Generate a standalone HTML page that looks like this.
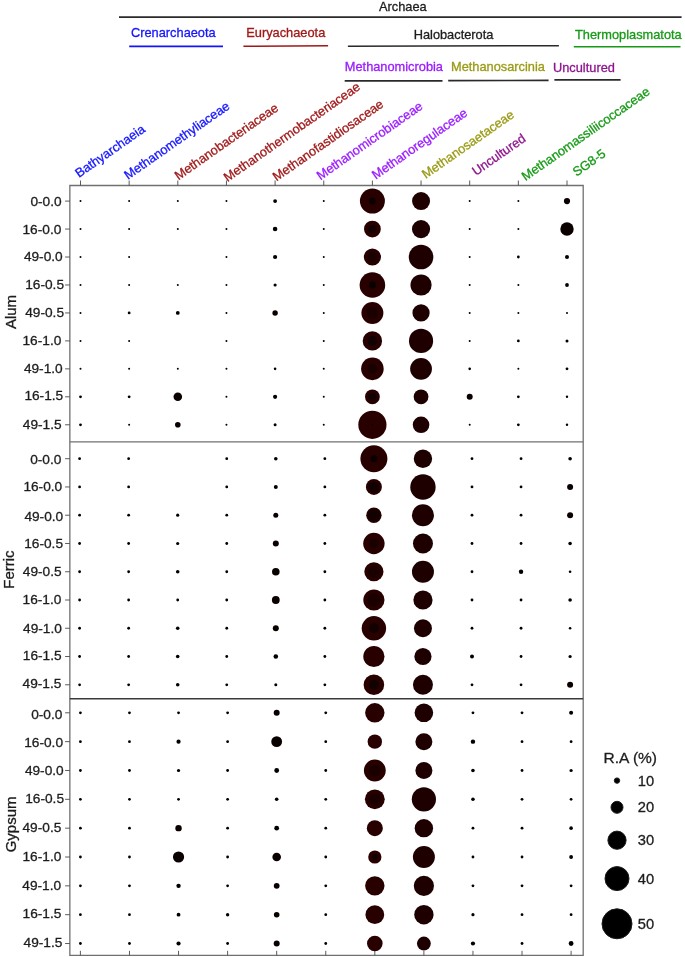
<!DOCTYPE html>
<html lang="en"><head><meta charset="utf-8"><title>Archaea relative abundance bubble plot</title>
<style>html,body{margin:0;padding:0;background:#fff}body{width:685px;height:957px;overflow:hidden}svg{display:block}text{font-family:"Liberation Sans", Arial, sans-serif}.b text{stroke-width:0.3px;paint-order:stroke}</style>
</head><body>
<svg width="685" height="957" viewBox="0 0 685 957">
<rect width="685" height="957" fill="#fff"/>
<g font-size="12.8" class="b">
<text x="379.0" y="10.6" fill="#1c1c1c" stroke="#1c1c1c" text-anchor="start">Archaea</text>
<line x1="119.0" y1="17.1" x2="681.6" y2="17.1" stroke="#2a2a2a" stroke-width="1.80"/>
<text x="131.0" y="37.2" fill="#1414ff" stroke="#1414ff" text-anchor="start">Crenarchaeota</text>
<line x1="129.2" y1="46.4" x2="223.0" y2="46.4" stroke="#1414ff" stroke-width="1.60"/>
<text x="246.3" y="37.2" fill="#a01818" stroke="#a01818" text-anchor="start">Euryachaeota</text>
<line x1="243.4" y1="46.3" x2="328.1" y2="45.8" stroke="#a01818" stroke-width="1.60"/>
<text x="413.7" y="39.4" fill="#1c1c1c" stroke="#1c1c1c" text-anchor="start">Halobacterota</text>
<line x1="347.9" y1="46.2" x2="558.9" y2="45.7" stroke="#2a2a2a" stroke-width="1.60"/>
<text x="575.0" y="39.4" fill="#169a16" stroke="#169a16" text-anchor="start">Thermoplasmatota</text>
<line x1="573.8" y1="46.8" x2="680.5" y2="46.8" stroke="#169a16" stroke-width="1.60"/>
<text x="344.8" y="71.0" fill="#9a1aff" stroke="#9a1aff" text-anchor="start">Methanomicrobia</text>
<line x1="344.7" y1="80.9" x2="442.5" y2="80.9" stroke="#2a2a2a" stroke-width="1.60"/>
<text x="451.0" y="71.0" fill="#9a9a14" stroke="#9a9a14" text-anchor="start">Methanosarcinia</text>
<line x1="448.2" y1="80.6" x2="548.6" y2="80.4" stroke="#2a2a2a" stroke-width="1.60"/>
<text x="553.0" y="72.0" fill="#8e148e" stroke="#8e148e" text-anchor="start">Uncultured</text>
<line x1="554.4" y1="79.9" x2="620.6" y2="79.9" stroke="#2a2a2a" stroke-width="1.60"/>
<text transform="translate(79.0 178.0) rotate(-35)" fill="#1414ff" stroke="#1414ff">Bathyarchaeia</text>
<text transform="translate(128.0 179.9) rotate(-35)" fill="#1414ff" stroke="#1414ff">Methanomethyliaceae</text>
<text transform="translate(178.4 180.4) rotate(-35)" fill="#a01818" stroke="#a01818">Methanobacteriaceae</text>
<text transform="translate(227.6 182.2) rotate(-35)" fill="#a01818" stroke="#a01818">Methanothermobacteriaceae</text>
<text transform="translate(276.6 181.6) rotate(-35)" fill="#a01818" stroke="#a01818">Methanofastidiosaceae</text>
<text transform="translate(320.4 180.4) rotate(-35)" fill="#9a1aff" stroke="#9a1aff">Methanomicrobiaceae</text>
<text transform="translate(375.7 179.7) rotate(-35)" fill="#9a1aff" stroke="#9a1aff">Methanoregulaceae</text>
<text transform="translate(425.8 179.0) rotate(-35)" fill="#9a9a14" stroke="#9a9a14">Methanosaetaceae</text>
<text transform="translate(475.9 176.0) rotate(-35)" fill="#8e148e" stroke="#8e148e">Uncultured</text>
<text transform="translate(525.5 181.2) rotate(-35)" fill="#169a16" stroke="#169a16">Methanomassiliicoccaceae</text>
<text transform="translate(576.4 176.8) rotate(-35)" fill="#169a16" stroke="#169a16">SG8-5</text>
</g>
<g stroke="#707070" stroke-width="1.3" fill="none">
<path d="M69.85 185.50 H583.20 V955.30 H69.85 Z"/>
<path d="M69.85 441.9 H583.20"/>
</g>
<path d="M69.85 698.85 H583.20" stroke="#3a3a3a" stroke-width="1.5" fill="none"/>
<g stroke="#4a4a4a" stroke-width="0.9">
<line x1="80.50" y1="180.5" x2="80.50" y2="185.5"/>
<line x1="129.15" y1="180.5" x2="129.15" y2="185.5"/>
<line x1="177.80" y1="180.5" x2="177.80" y2="185.5"/>
<line x1="226.45" y1="180.5" x2="226.45" y2="185.5"/>
<line x1="275.10" y1="180.5" x2="275.10" y2="185.5"/>
<line x1="323.75" y1="180.5" x2="323.75" y2="185.5"/>
<line x1="372.40" y1="180.5" x2="372.40" y2="185.5"/>
<line x1="421.05" y1="180.5" x2="421.05" y2="185.5"/>
<line x1="469.70" y1="180.5" x2="469.70" y2="185.5"/>
<line x1="518.35" y1="180.5" x2="518.35" y2="185.5"/>
<line x1="567.00" y1="180.5" x2="567.00" y2="185.5"/>
<line x1="80.40" y1="950.8" x2="80.40" y2="955.3"/>
<line x1="129.47" y1="950.8" x2="129.47" y2="955.3"/>
<line x1="178.54" y1="950.8" x2="178.54" y2="955.3"/>
<line x1="227.61" y1="950.8" x2="227.61" y2="955.3"/>
<line x1="276.68" y1="950.8" x2="276.68" y2="955.3"/>
<line x1="325.75" y1="950.8" x2="325.75" y2="955.3"/>
<line x1="374.82" y1="950.8" x2="374.82" y2="955.3"/>
<line x1="423.89" y1="950.8" x2="423.89" y2="955.3"/>
<line x1="472.96" y1="950.8" x2="472.96" y2="955.3"/>
<line x1="522.03" y1="950.8" x2="522.03" y2="955.3"/>
<line x1="571.10" y1="950.8" x2="571.10" y2="955.3"/>
<line x1="65.1" y1="201.10" x2="69.85" y2="201.10"/>
<line x1="65.1" y1="229.06" x2="69.85" y2="229.06"/>
<line x1="65.1" y1="257.02" x2="69.85" y2="257.02"/>
<line x1="65.1" y1="284.98" x2="69.85" y2="284.98"/>
<line x1="65.1" y1="312.94" x2="69.85" y2="312.94"/>
<line x1="65.1" y1="340.90" x2="69.85" y2="340.90"/>
<line x1="65.1" y1="368.86" x2="69.85" y2="368.86"/>
<line x1="65.1" y1="396.82" x2="69.85" y2="396.82"/>
<line x1="65.1" y1="424.78" x2="69.85" y2="424.78"/>
<line x1="65.1" y1="458.70" x2="69.85" y2="458.70"/>
<line x1="65.1" y1="486.96" x2="69.85" y2="486.96"/>
<line x1="65.1" y1="515.22" x2="69.85" y2="515.22"/>
<line x1="65.1" y1="543.48" x2="69.85" y2="543.48"/>
<line x1="65.1" y1="571.74" x2="69.85" y2="571.74"/>
<line x1="65.1" y1="600.00" x2="69.85" y2="600.00"/>
<line x1="65.1" y1="628.26" x2="69.85" y2="628.26"/>
<line x1="65.1" y1="656.52" x2="69.85" y2="656.52"/>
<line x1="65.1" y1="684.78" x2="69.85" y2="684.78"/>
<line x1="65.1" y1="712.80" x2="69.85" y2="712.80"/>
<line x1="65.1" y1="741.64" x2="69.85" y2="741.64"/>
<line x1="65.1" y1="770.48" x2="69.85" y2="770.48"/>
<line x1="65.1" y1="799.32" x2="69.85" y2="799.32"/>
<line x1="65.1" y1="828.16" x2="69.85" y2="828.16"/>
<line x1="65.1" y1="857.00" x2="69.85" y2="857.00"/>
<line x1="65.1" y1="885.84" x2="69.85" y2="885.84"/>
<line x1="65.1" y1="914.68" x2="69.85" y2="914.68"/>
<line x1="65.1" y1="943.52" x2="69.85" y2="943.52"/>
</g>
<g class="b" font-size="13.7" fill="#1c1c1c" stroke="#1c1c1c" text-anchor="end">
<text x="61.6" y="205.9">0-0.0</text>
<text x="61.3" y="233.5">16-0.0</text>
<text x="62.7" y="261.2">49-0.0</text>
<text x="64.0" y="289.3">16-0.5</text>
<text x="64.0" y="317.0">49-0.5</text>
<text x="61.3" y="345.0">16-1.0</text>
<text x="62.7" y="373.4">49-1.0</text>
<text x="63.2" y="399.9">16-1.5</text>
<text x="61.6" y="428.8">49-1.5</text>
<text x="61.4" y="463.7">0-0.0</text>
<text x="62.2" y="490.5">16-0.0</text>
<text x="63.2" y="520.5">49-0.0</text>
<text x="63.0" y="547.7">16-0.5</text>
<text x="61.6" y="575.9">49-0.5</text>
<text x="61.4" y="604.4">16-1.0</text>
<text x="61.9" y="633.2">49-1.0</text>
<text x="61.6" y="660.4">16-1.5</text>
<text x="61.4" y="687.6">49-1.5</text>
<text x="62.4" y="718.6">0-0.0</text>
<text x="63.0" y="746.5">16-0.0</text>
<text x="63.7" y="775.4">49-0.0</text>
<text x="64.0" y="802.8">16-0.5</text>
<text x="61.3" y="832.2">49-0.5</text>
<text x="61.3" y="860.5">16-1.0</text>
<text x="61.1" y="890.4">49-1.0</text>
<text x="61.4" y="918.1">16-1.5</text>
<text x="62.4" y="947.1">49-1.5</text>
</g>
<g class="b" font-size="15" fill="#1c1c1c" stroke="#1c1c1c" text-anchor="middle">
<text transform="translate(16.0 312.0) rotate(-90)">Alum</text>
<text transform="translate(14.0 569.6) rotate(-90)">Ferric</text>
<text transform="translate(16.0 824.4) rotate(-90)">Gypsum</text>
</g>
<g>
<circle cx="80.50" cy="201.10" r="1.00" fill="#000"/>
<circle cx="80.50" cy="229.06" r="1.00" fill="#000"/>
<circle cx="80.50" cy="257.02" r="1.00" fill="#000"/>
<circle cx="80.50" cy="284.98" r="1.00" fill="#000"/>
<circle cx="80.50" cy="312.94" r="1.00" fill="#000"/>
<circle cx="80.50" cy="340.90" r="1.00" fill="#000"/>
<circle cx="80.50" cy="368.86" r="1.00" fill="#000"/>
<circle cx="80.50" cy="396.82" r="1.40" fill="#000"/>
<circle cx="80.50" cy="424.78" r="1.40" fill="#000"/>
<circle cx="129.15" cy="201.10" r="1.00" fill="#000"/>
<circle cx="129.15" cy="229.06" r="1.00" fill="#000"/>
<circle cx="129.15" cy="257.02" r="1.00" fill="#000"/>
<circle cx="129.15" cy="284.98" r="1.00" fill="#000"/>
<circle cx="129.15" cy="312.94" r="1.40" fill="#000"/>
<circle cx="129.15" cy="340.90" r="1.00" fill="#000"/>
<circle cx="129.15" cy="368.86" r="1.00" fill="#000"/>
<circle cx="129.15" cy="396.82" r="1.40" fill="#000"/>
<circle cx="129.15" cy="424.78" r="1.00" fill="#000"/>
<circle cx="177.80" cy="201.10" r="1.00" fill="#000"/>
<circle cx="177.80" cy="229.06" r="1.00" fill="#000"/>
<circle cx="177.80" cy="284.98" r="1.00" fill="#000"/>
<circle cx="177.80" cy="312.94" r="1.90" fill="#000"/>
<circle cx="177.80" cy="368.86" r="1.00" fill="#000"/>
<circle cx="177.80" cy="396.82" r="4.30" fill="#0a0000"/>
<circle cx="177.80" cy="424.78" r="2.80" fill="#0a0000"/>
<circle cx="226.45" cy="201.10" r="1.00" fill="#000"/>
<circle cx="226.45" cy="229.06" r="1.00" fill="#000"/>
<circle cx="226.45" cy="257.02" r="1.00" fill="#000"/>
<circle cx="226.45" cy="284.98" r="1.00" fill="#000"/>
<circle cx="226.45" cy="312.94" r="1.00" fill="#000"/>
<circle cx="226.45" cy="340.90" r="1.00" fill="#000"/>
<circle cx="226.45" cy="368.86" r="1.00" fill="#000"/>
<circle cx="226.45" cy="396.82" r="1.00" fill="#000"/>
<circle cx="226.45" cy="424.78" r="1.00" fill="#000"/>
<circle cx="275.10" cy="201.10" r="1.90" fill="#000"/>
<circle cx="275.10" cy="229.06" r="2.30" fill="#000"/>
<circle cx="275.10" cy="257.02" r="2.10" fill="#000"/>
<circle cx="275.10" cy="284.98" r="1.60" fill="#000"/>
<circle cx="275.10" cy="312.94" r="2.70" fill="#0a0000"/>
<circle cx="275.10" cy="368.86" r="1.30" fill="#000"/>
<circle cx="275.10" cy="396.82" r="2.10" fill="#000"/>
<circle cx="275.10" cy="424.78" r="1.50" fill="#000"/>
<circle cx="323.75" cy="201.10" r="1.00" fill="#000"/>
<circle cx="323.75" cy="229.06" r="1.00" fill="#000"/>
<circle cx="323.75" cy="257.02" r="1.00" fill="#000"/>
<circle cx="323.75" cy="284.98" r="1.00" fill="#000"/>
<circle cx="323.75" cy="312.94" r="1.00" fill="#000"/>
<circle cx="323.75" cy="340.90" r="1.00" fill="#000"/>
<circle cx="323.75" cy="368.86" r="1.00" fill="#000"/>
<circle cx="323.75" cy="396.82" r="1.00" fill="#000"/>
<circle cx="323.75" cy="424.78" r="1.00" fill="#000"/>
<circle cx="372.40" cy="201.10" r="12.50" fill="#280000"/>
<circle cx="372.40" cy="201.10" r="3.40" fill="#090000"/>
<circle cx="372.40" cy="229.06" r="8.40" fill="#280000"/>
<circle cx="372.40" cy="229.06" r="4.00" fill="#130000"/>
<circle cx="372.40" cy="257.02" r="8.60" fill="#280000"/>
<circle cx="372.40" cy="257.02" r="5.00" fill="#1b0000"/>
<circle cx="372.40" cy="284.98" r="12.80" fill="#280000"/>
<circle cx="372.40" cy="284.98" r="3.40" fill="#090000"/>
<circle cx="372.40" cy="312.94" r="11.00" fill="#280000"/>
<circle cx="372.40" cy="312.94" r="6.00" fill="#1b0000"/>
<circle cx="372.40" cy="340.90" r="9.70" fill="#280000"/>
<circle cx="372.40" cy="340.90" r="5.00" fill="#130000"/>
<circle cx="372.40" cy="368.86" r="11.30" fill="#280000"/>
<circle cx="372.40" cy="368.86" r="5.00" fill="#1b0000"/>
<circle cx="372.40" cy="396.82" r="7.40" fill="#280000"/>
<circle cx="372.40" cy="396.82" r="4.00" fill="#130000"/>
<circle cx="372.40" cy="424.78" r="14.10" fill="#280000"/>
<circle cx="372.40" cy="424.78" r="1.00" fill="#090000"/>
<circle cx="421.05" cy="201.10" r="9.00" fill="#1e0000"/>
<circle cx="421.05" cy="229.06" r="9.10" fill="#1e0000"/>
<circle cx="421.05" cy="257.02" r="12.30" fill="#1e0000"/>
<circle cx="421.05" cy="284.98" r="10.60" fill="#1e0000"/>
<circle cx="421.05" cy="312.94" r="8.60" fill="#1e0000"/>
<circle cx="421.05" cy="340.90" r="12.10" fill="#1e0000"/>
<circle cx="421.05" cy="368.86" r="10.90" fill="#1e0000"/>
<circle cx="421.05" cy="396.82" r="7.40" fill="#1e0000"/>
<circle cx="421.05" cy="424.78" r="8.30" fill="#1e0000"/>
<circle cx="469.70" cy="201.10" r="1.00" fill="#000"/>
<circle cx="469.70" cy="229.06" r="1.00" fill="#000"/>
<circle cx="469.70" cy="257.02" r="1.00" fill="#000"/>
<circle cx="469.70" cy="284.98" r="1.00" fill="#000"/>
<circle cx="469.70" cy="312.94" r="1.00" fill="#000"/>
<circle cx="469.70" cy="340.90" r="1.00" fill="#000"/>
<circle cx="469.70" cy="368.86" r="1.30" fill="#000"/>
<circle cx="469.70" cy="396.82" r="3.00" fill="#0a0000"/>
<circle cx="469.70" cy="424.78" r="1.00" fill="#000"/>
<circle cx="518.35" cy="201.10" r="1.00" fill="#000"/>
<circle cx="518.35" cy="229.06" r="1.00" fill="#000"/>
<circle cx="518.35" cy="257.02" r="1.40" fill="#000"/>
<circle cx="518.35" cy="284.98" r="1.00" fill="#000"/>
<circle cx="518.35" cy="312.94" r="1.00" fill="#000"/>
<circle cx="518.35" cy="340.90" r="1.40" fill="#000"/>
<circle cx="518.35" cy="368.86" r="1.00" fill="#000"/>
<circle cx="518.35" cy="396.82" r="1.40" fill="#000"/>
<circle cx="518.35" cy="424.78" r="1.40" fill="#000"/>
<circle cx="567.00" cy="201.10" r="3.10" fill="#0a0000"/>
<circle cx="567.00" cy="229.06" r="6.70" fill="#0a0000"/>
<circle cx="567.00" cy="257.02" r="2.00" fill="#000"/>
<circle cx="567.00" cy="284.98" r="1.90" fill="#000"/>
<circle cx="567.00" cy="312.94" r="1.00" fill="#000"/>
<circle cx="567.00" cy="340.90" r="1.50" fill="#000"/>
<circle cx="567.00" cy="368.86" r="1.40" fill="#000"/>
<circle cx="567.00" cy="396.82" r="1.20" fill="#000"/>
<circle cx="567.00" cy="424.78" r="1.20" fill="#000"/>
</g>
<g>
<circle cx="79.60" cy="458.70" r="1.40" fill="#000"/>
<circle cx="79.60" cy="486.96" r="1.40" fill="#000"/>
<circle cx="79.60" cy="515.22" r="1.40" fill="#000"/>
<circle cx="79.60" cy="543.48" r="1.40" fill="#000"/>
<circle cx="79.60" cy="571.74" r="1.40" fill="#000"/>
<circle cx="79.60" cy="600.00" r="1.40" fill="#000"/>
<circle cx="79.60" cy="628.26" r="1.40" fill="#000"/>
<circle cx="79.60" cy="656.52" r="1.40" fill="#000"/>
<circle cx="79.60" cy="684.78" r="1.40" fill="#000"/>
<circle cx="128.65" cy="458.70" r="1.40" fill="#000"/>
<circle cx="128.65" cy="486.96" r="1.40" fill="#000"/>
<circle cx="128.65" cy="515.22" r="1.40" fill="#000"/>
<circle cx="128.65" cy="543.48" r="1.40" fill="#000"/>
<circle cx="128.65" cy="571.74" r="1.40" fill="#000"/>
<circle cx="128.65" cy="600.00" r="1.40" fill="#000"/>
<circle cx="128.65" cy="628.26" r="1.40" fill="#000"/>
<circle cx="128.65" cy="656.52" r="1.40" fill="#000"/>
<circle cx="128.65" cy="684.78" r="1.40" fill="#000"/>
<circle cx="177.70" cy="515.22" r="1.60" fill="#000"/>
<circle cx="177.70" cy="543.48" r="1.60" fill="#000"/>
<circle cx="177.70" cy="571.74" r="1.80" fill="#000"/>
<circle cx="177.70" cy="600.00" r="1.40" fill="#000"/>
<circle cx="177.70" cy="628.26" r="1.80" fill="#000"/>
<circle cx="177.70" cy="656.52" r="1.80" fill="#000"/>
<circle cx="177.70" cy="684.78" r="1.80" fill="#000"/>
<circle cx="226.75" cy="458.70" r="1.40" fill="#000"/>
<circle cx="226.75" cy="486.96" r="1.40" fill="#000"/>
<circle cx="226.75" cy="515.22" r="1.40" fill="#000"/>
<circle cx="226.75" cy="543.48" r="1.40" fill="#000"/>
<circle cx="226.75" cy="571.74" r="1.40" fill="#000"/>
<circle cx="226.75" cy="600.00" r="1.40" fill="#000"/>
<circle cx="226.75" cy="628.26" r="1.40" fill="#000"/>
<circle cx="226.75" cy="656.52" r="1.40" fill="#000"/>
<circle cx="226.75" cy="684.78" r="1.40" fill="#000"/>
<circle cx="275.80" cy="458.70" r="1.80" fill="#000"/>
<circle cx="275.80" cy="486.96" r="2.00" fill="#000"/>
<circle cx="275.80" cy="515.22" r="2.50" fill="#0a0000"/>
<circle cx="275.80" cy="543.48" r="3.00" fill="#0a0000"/>
<circle cx="275.80" cy="571.74" r="3.80" fill="#0a0000"/>
<circle cx="275.80" cy="600.00" r="3.90" fill="#0a0000"/>
<circle cx="275.80" cy="628.26" r="3.00" fill="#0a0000"/>
<circle cx="275.80" cy="656.52" r="2.30" fill="#000"/>
<circle cx="275.80" cy="684.78" r="1.50" fill="#000"/>
<circle cx="324.85" cy="458.70" r="1.40" fill="#000"/>
<circle cx="324.85" cy="486.96" r="1.40" fill="#000"/>
<circle cx="324.85" cy="515.22" r="1.40" fill="#000"/>
<circle cx="324.85" cy="543.48" r="1.40" fill="#000"/>
<circle cx="324.85" cy="571.74" r="1.40" fill="#000"/>
<circle cx="324.85" cy="600.00" r="1.40" fill="#000"/>
<circle cx="324.85" cy="628.26" r="1.40" fill="#000"/>
<circle cx="324.85" cy="656.52" r="1.40" fill="#000"/>
<circle cx="324.85" cy="684.78" r="1.40" fill="#000"/>
<circle cx="373.90" cy="458.70" r="13.50" fill="#280000"/>
<circle cx="373.90" cy="458.70" r="3.50" fill="#090000"/>
<circle cx="373.90" cy="486.96" r="8.00" fill="#280000"/>
<circle cx="373.90" cy="486.96" r="5.50" fill="#130000"/>
<circle cx="373.90" cy="515.22" r="7.70" fill="#280000"/>
<circle cx="373.90" cy="515.22" r="6.00" fill="#130000"/>
<circle cx="373.90" cy="543.48" r="10.70" fill="#280000"/>
<circle cx="373.90" cy="543.48" r="5.00" fill="#1b0000"/>
<circle cx="373.90" cy="571.74" r="9.60" fill="#280000"/>
<circle cx="373.90" cy="571.74" r="6.00" fill="#1b0000"/>
<circle cx="373.90" cy="600.00" r="10.60" fill="#280000"/>
<circle cx="373.90" cy="600.00" r="6.50" fill="#1b0000"/>
<circle cx="373.90" cy="628.26" r="12.20" fill="#280000"/>
<circle cx="373.90" cy="628.26" r="5.00" fill="#130000"/>
<circle cx="373.90" cy="656.52" r="10.60" fill="#280000"/>
<circle cx="373.90" cy="684.78" r="10.30" fill="#280000"/>
<circle cx="373.90" cy="684.78" r="5.00" fill="#130000"/>
<circle cx="422.95" cy="458.70" r="9.20" fill="#1e0000"/>
<circle cx="422.95" cy="486.96" r="12.70" fill="#1e0000"/>
<circle cx="422.95" cy="515.22" r="11.00" fill="#1e0000"/>
<circle cx="422.95" cy="543.48" r="10.00" fill="#1e0000"/>
<circle cx="422.95" cy="571.74" r="11.00" fill="#1e0000"/>
<circle cx="422.95" cy="600.00" r="9.60" fill="#1e0000"/>
<circle cx="422.95" cy="628.26" r="9.00" fill="#1e0000"/>
<circle cx="422.95" cy="656.52" r="8.60" fill="#1e0000"/>
<circle cx="422.95" cy="684.78" r="10.00" fill="#1e0000"/>
<circle cx="472.00" cy="458.70" r="1.40" fill="#000"/>
<circle cx="472.00" cy="486.96" r="1.40" fill="#000"/>
<circle cx="472.00" cy="515.22" r="1.40" fill="#000"/>
<circle cx="472.00" cy="543.48" r="1.40" fill="#000"/>
<circle cx="472.00" cy="571.74" r="1.40" fill="#000"/>
<circle cx="472.00" cy="600.00" r="1.40" fill="#000"/>
<circle cx="472.00" cy="628.26" r="1.40" fill="#000"/>
<circle cx="472.00" cy="656.52" r="2.00" fill="#000"/>
<circle cx="472.00" cy="684.78" r="1.40" fill="#000"/>
<circle cx="521.05" cy="458.70" r="1.40" fill="#000"/>
<circle cx="521.05" cy="486.96" r="1.40" fill="#000"/>
<circle cx="521.05" cy="515.22" r="1.40" fill="#000"/>
<circle cx="521.05" cy="543.48" r="1.40" fill="#000"/>
<circle cx="521.05" cy="571.74" r="2.20" fill="#000"/>
<circle cx="521.05" cy="600.00" r="1.40" fill="#000"/>
<circle cx="521.05" cy="628.26" r="1.40" fill="#000"/>
<circle cx="521.05" cy="656.52" r="1.40" fill="#000"/>
<circle cx="521.05" cy="684.78" r="1.40" fill="#000"/>
<circle cx="570.10" cy="458.70" r="1.80" fill="#000"/>
<circle cx="570.10" cy="486.96" r="3.00" fill="#0a0000"/>
<circle cx="570.10" cy="515.22" r="3.00" fill="#0a0000"/>
<circle cx="570.10" cy="543.48" r="1.80" fill="#000"/>
<circle cx="570.10" cy="571.74" r="1.30" fill="#000"/>
<circle cx="570.10" cy="600.00" r="1.80" fill="#000"/>
<circle cx="570.10" cy="628.26" r="1.30" fill="#000"/>
<circle cx="570.10" cy="656.52" r="1.60" fill="#000"/>
<circle cx="570.10" cy="684.78" r="3.00" fill="#0a0000"/>
</g>
<g>
<circle cx="80.40" cy="712.80" r="1.40" fill="#000"/>
<circle cx="80.40" cy="741.64" r="1.40" fill="#000"/>
<circle cx="80.40" cy="770.48" r="1.40" fill="#000"/>
<circle cx="80.40" cy="799.32" r="1.40" fill="#000"/>
<circle cx="80.40" cy="828.16" r="1.40" fill="#000"/>
<circle cx="80.40" cy="857.00" r="1.40" fill="#000"/>
<circle cx="80.40" cy="885.84" r="1.40" fill="#000"/>
<circle cx="80.40" cy="914.68" r="1.40" fill="#000"/>
<circle cx="80.40" cy="943.52" r="1.40" fill="#000"/>
<circle cx="129.47" cy="712.80" r="1.40" fill="#000"/>
<circle cx="129.47" cy="741.64" r="1.40" fill="#000"/>
<circle cx="129.47" cy="770.48" r="1.40" fill="#000"/>
<circle cx="129.47" cy="799.32" r="1.40" fill="#000"/>
<circle cx="129.47" cy="828.16" r="1.40" fill="#000"/>
<circle cx="129.47" cy="857.00" r="1.40" fill="#000"/>
<circle cx="129.47" cy="885.84" r="1.40" fill="#000"/>
<circle cx="129.47" cy="914.68" r="1.40" fill="#000"/>
<circle cx="129.47" cy="943.52" r="1.40" fill="#000"/>
<circle cx="178.54" cy="712.80" r="1.40" fill="#000"/>
<circle cx="178.54" cy="741.64" r="2.10" fill="#000"/>
<circle cx="178.54" cy="770.48" r="1.60" fill="#000"/>
<circle cx="178.54" cy="799.32" r="1.40" fill="#000"/>
<circle cx="178.54" cy="828.16" r="3.20" fill="#0a0000"/>
<circle cx="178.54" cy="857.00" r="5.60" fill="#0a0000"/>
<circle cx="178.54" cy="885.84" r="2.20" fill="#000"/>
<circle cx="178.54" cy="914.68" r="1.90" fill="#000"/>
<circle cx="178.54" cy="943.52" r="2.10" fill="#000"/>
<circle cx="227.61" cy="712.80" r="1.40" fill="#000"/>
<circle cx="227.61" cy="741.64" r="1.40" fill="#000"/>
<circle cx="227.61" cy="770.48" r="1.40" fill="#000"/>
<circle cx="227.61" cy="799.32" r="1.40" fill="#000"/>
<circle cx="227.61" cy="828.16" r="1.40" fill="#000"/>
<circle cx="227.61" cy="857.00" r="1.40" fill="#000"/>
<circle cx="227.61" cy="885.84" r="1.40" fill="#000"/>
<circle cx="227.61" cy="914.68" r="1.70" fill="#000"/>
<circle cx="227.61" cy="943.52" r="1.40" fill="#000"/>
<circle cx="276.68" cy="712.80" r="3.00" fill="#0a0000"/>
<circle cx="276.68" cy="741.64" r="5.40" fill="#0a0000"/>
<circle cx="276.68" cy="770.48" r="2.40" fill="#000"/>
<circle cx="276.68" cy="799.32" r="1.80" fill="#000"/>
<circle cx="276.68" cy="828.16" r="2.40" fill="#000"/>
<circle cx="276.68" cy="857.00" r="4.30" fill="#0a0000"/>
<circle cx="276.68" cy="885.84" r="2.90" fill="#0a0000"/>
<circle cx="276.68" cy="914.68" r="2.80" fill="#0a0000"/>
<circle cx="276.68" cy="943.52" r="3.00" fill="#0a0000"/>
<circle cx="325.75" cy="712.80" r="1.40" fill="#000"/>
<circle cx="325.75" cy="741.64" r="1.40" fill="#000"/>
<circle cx="325.75" cy="770.48" r="1.40" fill="#000"/>
<circle cx="325.75" cy="799.32" r="1.40" fill="#000"/>
<circle cx="325.75" cy="828.16" r="1.40" fill="#000"/>
<circle cx="325.75" cy="857.00" r="1.40" fill="#000"/>
<circle cx="325.75" cy="885.84" r="1.40" fill="#000"/>
<circle cx="325.75" cy="914.68" r="1.40" fill="#000"/>
<circle cx="325.75" cy="943.52" r="1.40" fill="#000"/>
<circle cx="374.82" cy="712.80" r="9.70" fill="#280000"/>
<circle cx="374.82" cy="741.64" r="7.20" fill="#280000"/>
<circle cx="374.82" cy="770.48" r="10.90" fill="#280000"/>
<circle cx="374.82" cy="770.48" r="6.00" fill="#1b0000"/>
<circle cx="374.82" cy="799.32" r="9.90" fill="#280000"/>
<circle cx="374.82" cy="799.32" r="6.00" fill="#1b0000"/>
<circle cx="374.82" cy="828.16" r="8.00" fill="#280000"/>
<circle cx="374.82" cy="857.00" r="6.60" fill="#280000"/>
<circle cx="374.82" cy="857.00" r="3.00" fill="#130000"/>
<circle cx="374.82" cy="885.84" r="9.70" fill="#280000"/>
<circle cx="374.82" cy="914.68" r="9.40" fill="#280000"/>
<circle cx="374.82" cy="943.52" r="7.80" fill="#280000"/>
<circle cx="423.89" cy="712.80" r="9.30" fill="#1e0000"/>
<circle cx="423.89" cy="741.64" r="8.50" fill="#1e0000"/>
<circle cx="423.89" cy="770.48" r="8.50" fill="#1e0000"/>
<circle cx="423.89" cy="799.32" r="12.10" fill="#1e0000"/>
<circle cx="423.89" cy="828.16" r="9.20" fill="#1e0000"/>
<circle cx="423.89" cy="857.00" r="11.00" fill="#1e0000"/>
<circle cx="423.89" cy="885.84" r="10.10" fill="#1e0000"/>
<circle cx="423.89" cy="914.68" r="9.70" fill="#1e0000"/>
<circle cx="423.89" cy="943.52" r="6.90" fill="#1e0000"/>
<circle cx="472.96" cy="712.80" r="1.40" fill="#000"/>
<circle cx="472.96" cy="741.64" r="2.20" fill="#000"/>
<circle cx="472.96" cy="770.48" r="1.80" fill="#000"/>
<circle cx="472.96" cy="799.32" r="1.80" fill="#000"/>
<circle cx="472.96" cy="828.16" r="1.40" fill="#000"/>
<circle cx="472.96" cy="857.00" r="1.40" fill="#000"/>
<circle cx="472.96" cy="885.84" r="1.40" fill="#000"/>
<circle cx="472.96" cy="914.68" r="1.60" fill="#000"/>
<circle cx="472.96" cy="943.52" r="2.10" fill="#000"/>
<circle cx="522.03" cy="712.80" r="1.40" fill="#000"/>
<circle cx="522.03" cy="741.64" r="1.40" fill="#000"/>
<circle cx="522.03" cy="770.48" r="1.40" fill="#000"/>
<circle cx="522.03" cy="799.32" r="1.40" fill="#000"/>
<circle cx="522.03" cy="828.16" r="1.40" fill="#000"/>
<circle cx="522.03" cy="857.00" r="1.40" fill="#000"/>
<circle cx="522.03" cy="885.84" r="1.40" fill="#000"/>
<circle cx="522.03" cy="914.68" r="1.40" fill="#000"/>
<circle cx="522.03" cy="943.52" r="1.40" fill="#000"/>
<circle cx="571.10" cy="712.80" r="2.00" fill="#000"/>
<circle cx="571.10" cy="741.64" r="1.40" fill="#000"/>
<circle cx="571.10" cy="770.48" r="1.60" fill="#000"/>
<circle cx="571.10" cy="799.32" r="1.40" fill="#000"/>
<circle cx="571.10" cy="828.16" r="1.80" fill="#000"/>
<circle cx="571.10" cy="857.00" r="1.90" fill="#000"/>
<circle cx="571.10" cy="885.84" r="1.40" fill="#000"/>
<circle cx="571.10" cy="914.68" r="1.40" fill="#000"/>
<circle cx="571.10" cy="943.52" r="2.40" fill="#000"/>
</g>
<g class="b" font-size="14.7" fill="#1c1c1c" stroke="#1c1c1c">
<text x="603.6" y="763.3" font-size="15.5">R.A (%)</text>
<circle cx="617" cy="780.6" r="2.7" fill="#000"/>
<text x="637.8" y="785.5">10</text>
<circle cx="617" cy="807.3" r="6.0" fill="#000"/>
<text x="637.8" y="812.2">20</text>
<circle cx="617" cy="840.2" r="9.1" fill="#000"/>
<text x="637.8" y="845.1">30</text>
<circle cx="617" cy="878.6" r="12.0" fill="#000"/>
<text x="637.8" y="883.5">40</text>
<circle cx="617" cy="923.8" r="15.0" fill="#000"/>
<text x="637.8" y="928.7">50</text>
</g>
</svg></body></html>
